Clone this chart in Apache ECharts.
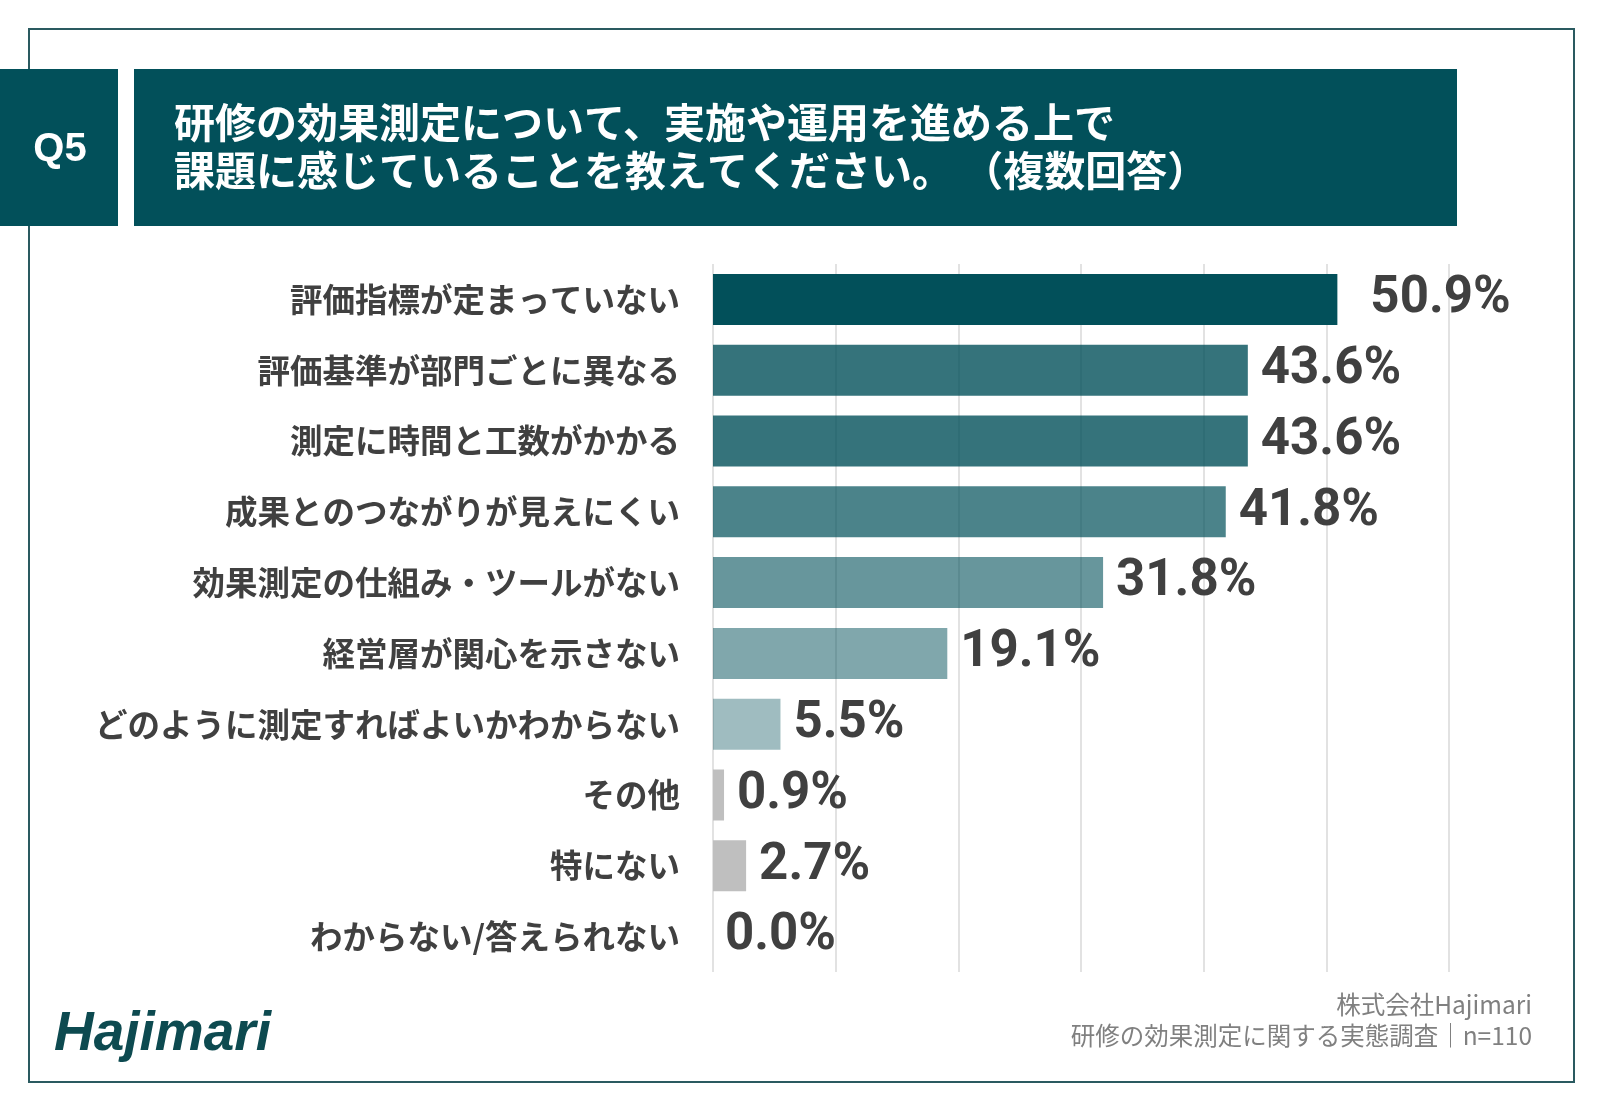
<!DOCTYPE html>
<html>
<head>
<meta charset="utf-8">
<script src="https://cdn.jsdelivr.net/npm/echarts@6/dist/echarts.min.js"></script>
<style>
html,body{margin:0;padding:0;background:#fff;}
#chart{width:1600px;height:1108px;}
</style>
</head>
<body>
<div id="chart"></div>
<script>
const categories = [
  '評価指標が定まっていない',
  '評価基準が部門ごとに異なる',
  '測定に時間と工数がかかる',
  '成果とのつながりが見えにくい',
  '効果測定の仕組み・ツールがない',
  '経営層が関心を示さない',
  'どのように測定すればよいかわからない',
  'その他',
  '特にない',
  'わからない/答えられない'
];
const values = [50.9, 43.6, 43.6, 41.8, 31.8, 19.1, 5.5, 0.9, 2.7, 0.0];
const barColors = ['#02505a','#02505a','#02505a','#02505a','#02505a','#02505a','#02505a','#bfbfbf','#bfbfbf','#bfbfbf'];
const barOpacity = [1, 0.8, 0.8, 0.71, 0.6, 0.5, 0.38, 1, 1, 1];
const labelGap = [33, 13, 13, 13, 13, 13, 13, 13, 13, 12];
const titleLines = ['研修の効果測定について、実施や運用を進める上で', '課題に感じていることを教えてください。 （複数回答）'];
const questionNo = 'Q5';
const footerLines = ['株式会社Hajimari', '研修の効果測定に関する実態調査｜n=110'];
const logoText = 'Hajimari';

const chart = echarts.init(document.getElementById('chart'));
const teal = '#02505a';
const cjk = '"Noto Sans CJK JP", "Noto Sans", sans-serif';

const seriesData = values.map((v, i) => ({
  value: v,
  itemStyle: { color: barColors[i], opacity: barOpacity[i] },
  label: { distance: labelGap[i] }
}));

chart.setOption({
  backgroundColor: '#fff',
  animation: false,
  grid: { left: 713, top: 264, width: 736, height: 708, containLabel: false },
  xAxis: {
    type: 'value', min: 0, max: 60, interval: 10,
    axisLabel: { show: false }, axisLine: { show: false }, axisTick: { show: false },
    splitLine: { show: true, lineStyle: { color: '#d9d9d9', width: 1.5 } }
  },
  yAxis: {
    type: 'category', data: categories, inverse: true,
    axisLine: { show: false }, axisTick: { show: false },
    axisLabel: { margin: 33, fontSize: 32.5, fontWeight: 'bold', color: '#404040', fontFamily: cjk }
  },
  series: [{
    type: 'bar', data: seriesData, barWidth: 51,
    label: {
      show: true, position: 'right',
      formatter: p => p.value.toFixed(1) + '%',
      fontFamily: 'Roboto, "Noto Sans", sans-serif', fontWeight: 'bold', fontSize: 51, color: '#404040', opacity: 1
    }
  }],
  graphic: [
    { type: 'rect', shape: { x: 29, y: 29, width: 1545, height: 1053 }, style: { fill: 'none', stroke: '#2a5a60', lineWidth: 2 }, z: -10 },
    { type: 'rect', shape: { x: 0, y: 69, width: 118, height: 157 }, style: { fill: teal } },
    { type: 'rect', shape: { x: 134, y: 69, width: 1323, height: 157 }, style: { fill: teal } },
    { type: 'text', style: { x: 60, y: 150, text: questionNo, fill: '#fff', font: 'bold 40px "Liberation Sans", Arial, sans-serif', textAlign: 'center', textVerticalAlign: 'middle' } },
    { type: 'text', style: { x: 174, y: 122, text: titleLines[0], fill: '#fff', font: 'bold 41px ' + cjk, textAlign: 'left', textVerticalAlign: 'middle' } },
    { type: 'text', style: { x: 174, y: 170, text: titleLines[1], fill: '#fff', font: 'bold 41px ' + cjk, textAlign: 'left', textVerticalAlign: 'middle' } },
    { type: 'text', style: { x: 1532, y: 1005, text: footerLines[0], fill: '#808080', font: '24.5px ' + cjk, textAlign: 'right', textVerticalAlign: 'middle' } },
    { type: 'text', style: { x: 1532, y: 1036, text: footerLines[1], fill: '#808080', font: '24.5px ' + cjk, textAlign: 'right', textVerticalAlign: 'middle' } },
    { type: 'text', style: { x: 54, y: 1035, text: logoText, fill: '#0d4a50', font: 'italic bold 55px "Liberation Sans", Arial, sans-serif', textAlign: 'left', textVerticalAlign: 'middle' } }
  ]
});
</script>
</body>
</html>
